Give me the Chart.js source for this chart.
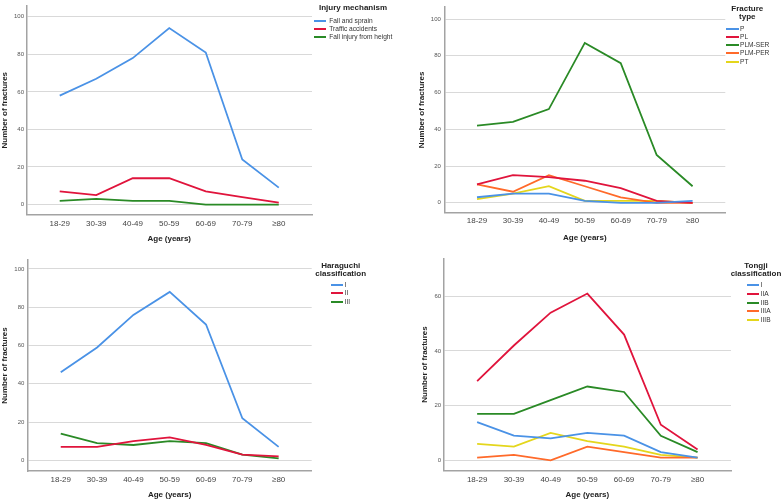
<!DOCTYPE html>
<html><head><meta charset="utf-8">
<script src="https://cdn.jsdelivr.net/npm/chart.js@4.4.0/dist/chart.umd.min.js"></script>
<style>
html,body{margin:0;padding:0;background:#fff;}
#wrap{position:relative;width:784px;height:500px;overflow:hidden;font-family:"Liberation Sans",Arial,sans-serif;background:#fff;}
canvas{position:absolute;}
.lg{position:absolute;white-space:nowrap;color:#222;}
.lt{font-weight:bold;font-size:8px;line-height:10px;}
.li{font-size:6.6px;line-height:8px;color:#333;}
.ll{position:absolute;height:2px;}
</style></head><body><div id="wrap">
<canvas id="c1" width="392" height="250" style="left:0;top:0"></canvas>
<canvas id="c2" width="392" height="250" style="left:392px;top:0"></canvas>
<canvas id="c3" width="392" height="250" style="left:0;top:250px"></canvas>
<canvas id="c4" width="392" height="250" style="left:392px;top:250px"></canvas>
</div>
<script>
// ---------------- data ----------------
const ageGroups = ['18-29','30-39','40-49','50-59','60-69','70-79','≥80'];
const yTicks100 = [0,20,40,60,80,100];
const yTicks60 = [0,20,40,60];

const injuryLabels = ['Fall and sprain','Traffic accidents','Fall injury from height'];
const fallSprain = [58,67,78,94,81,24,9];
const trafficAccidents = [7,5,14,14,7,4,1];
const fallHeight = [2,3,2,2,0,0,0];

const fractureLabels = ['P','PL','PLM-SER','PLM-PER','PT'];
const typeP = [3,5,5,1,0,0,1];
const typePL = [10,15,14,12,8,1,0];
const typePLMSER = [42,44,51,87,76,26,9];
const typePLMPER = [10,6,15,9,3,0,0];
const typePT = [2,5,9,1,1,1,0];

const haraLabels = ['I','II','III'];
const haraI = [46,59,76,88,71,22,7];
const haraII = [7,7,10,12,8,3,2];
const haraIII = [14,9,8,10,9,3,1];

const tongjiLabels = ['I','IIA','IIB','IIIA','IIIB'];
const tongjiI = [14,9,8,10,9,3,1];
const tongjiIIA = [29,42,54,61,46,13,4];
const tongjiIIB = [17,17,22,27,25,9,3];
const tongjiIIIA = [1,2,0,5,3,1,1];
const tongjiIIIB = [6,5,10,7,5,2,1];

// ---------------- styles ----------------
const BLUE='#4a92e6', RED='#e0143c', GREEN='#2a8a26', ORANGE='#ff6a2a', YELLOW='#e4d61c';
const FONT='"Liberation Sans", Arial, sans-serif';

function makeChart(id, seriesList, labels, colors, yTicks, L) {
  const W = 392, H = 250;
  const datasets = seriesList.map((vals, k) => ({
    label: labels[k],
    data: vals.map((v, i) => ({x: i, y: v})),
    borderColor: colors[k],
    backgroundColor: colors[k],
    borderWidth: 1.8,
    pointRadius: 0,
    tension: 0,
    fill: false
  }));
  new Chart(document.getElementById(id), {
    type: 'line',
    data: {datasets},
    options: {
      responsive: false,
      animation: false,
      events: [],
      layout: {padding: {left: 0, top: L.top, right: W - L.right, bottom: 0}},
      plugins: {legend: {display: false}, tooltip: {enabled: false}},
      scales: {
        x: {
          type: 'linear', min: -0.91, max: 6.91,
          afterBuildTicks: s => { s.ticks = ageGroups.map((c, i) => ({value: i})); },
          afterFit: s => { s.height = H - L.bottom; },
          grid: {display: false, drawTicks: false},
          border: {display: true, color: '#a3a3a3', width: 1.5},
          ticks: {autoSkip: false, maxRotation: 0, padding: L.xTickPad,
                  font: {family: FONT, size: 8}, color: '#444',
                  callback: v => ageGroups[v]},
          title: {display: true, text: 'Age (years)', color: '#222',
                  font: {family: FONT, size: 8, weight: 'bold', lineHeight: 1.2},
                  padding: {top: 0, bottom: L.xTitlePad}}
        },
        y: {
          min: L.ymin, max: L.ymax,
          afterBuildTicks: s => { s.ticks = yTicks.map(v => ({value: v})); },
          afterFit: s => { s.width = L.left; },
          grid: {color: '#d9d9d9', lineWidth: 1, drawTicks: false},
          border: {display: true, color: '#a3a3a3', width: 1.5},
          ticks: {padding: L.yTickPad, font: {family: FONT, size: 6}, color: '#555'},
          title: {display: true, text: 'Number of fractures', color: '#222',
                  font: {family: FONT, size: 8, weight: 'bold', lineHeight: 1.2},
                  padding: {top: L.yTitlePad, bottom: 0}}
        }
      }
    }
  });
}

function addLegend(titleLines, labels, colors, S) {
  const wrap = document.getElementById('wrap');
  titleLines.forEach((t, i) => {
    const d = document.createElement('div');
    d.className = 'lg lt';
    d.textContent = t;
    if (S.titleAlign === 'left') {
      d.style.left = S.titleX + 'px';
    } else {
      d.style.left = (S.titleX - 60) + 'px';
      d.style.width = '120px';
      d.style.textAlign = 'center';
    }
    d.style.top = (S.titleYs[i] - 5) + 'px';
    wrap.appendChild(d);
  });
  labels.forEach((lab, k) => {
    const y = S.y0 + k * S.dy;
    const ln = document.createElement('div');
    ln.className = 'll';
    ln.style.left = S.lineX + 'px';
    ln.style.width = S.lineW + 'px';
    ln.style.top = (y - 1) + 'px';
    ln.style.background = colors[k];
    wrap.appendChild(ln);
    const d = document.createElement('div');
    d.className = 'lg li';
    d.textContent = lab;
    d.style.left = S.textX + 'px';
    d.style.top = (y - 4) + 'px';
    wrap.appendChild(d);
  });
}

const c3 = [BLUE, RED, GREEN];
const c5 = [BLUE, RED, GREEN, ORANGE, YELLOW];

makeChart('c1', [fallSprain, trafficAccidents, fallHeight], injuryLabels, c3, yTicks100,
  {left: 26.5, right: 312, top: 0, bottom: 214.3, ymin: -5.2, ymax: 105.7,
   yTickPad: 2.5, yTitlePad: 0, xTickPad: 4.2, xTitlePad: 6.2});
makeChart('c2', [typeP, typePL, typePLMSER, typePLMPER, typePT], fractureLabels, c5, yTicks100,
  {left: 52.3, right: 333.3, top: 0, bottom: 212.7, ymin: -5.4, ymax: 106.5,
   yTickPad: 3.5, yTitlePad: 24.5, xTickPad: 3.3, xTitlePad: 7.5});
makeChart('c3', [haraI, haraII, haraIII], haraLabels, c3, yTicks100,
  {left: 27.7, right: 311.7, top: 10, bottom: 221, ymin: -5.6, ymax: 104.7,
   yTickPad: 3.4, yTitlePad: 0.2, xTickPad: 3.5, xTitlePad: 0});
makeChart('c4', [tongjiI, tongjiIIA, tongjiIIB, tongjiIIIA, tongjiIIIB], tongjiLabels, c5, yTicks60,
  {left: 51.7, right: 339, top: 8.3, bottom: 220.7, ymin: -3.8, ymax: 73.9,
   yTickPad: 2.6, yTitlePad: 27.5, xTickPad: 3.8, xTitlePad: 0});

addLegend(['Injury mechanism'], injuryLabels, c3,
  {titleAlign: 'left', titleX: 319, titleYs: [7.5], lineX: 314, lineW: 12, textX: 329.3, y0: 20.7, dy: 8});
addLegend(['Fracture', 'type'], fractureLabels, c5,
  {titleX: 747.3, titleYs: [9, 17.3], lineX: 726, lineW: 12.7, textX: 740, y0: 28.7, dy: 8.2});
addLegend(['Haraguchi', 'classification'], haraLabels, c3,
  {titleX: 340.7, titleYs: [266, 274], lineX: 330.7, lineW: 12.6, textX: 344.7, y0: 284.7, dy: 8.7});
addLegend(['Tongji', 'classification'], tongjiLabels, c5,
  {titleX: 756, titleYs: [265.7, 274], lineX: 746.7, lineW: 12.6, textX: 760.7, y0: 285.3, dy: 8.6});
</script></body></html>
